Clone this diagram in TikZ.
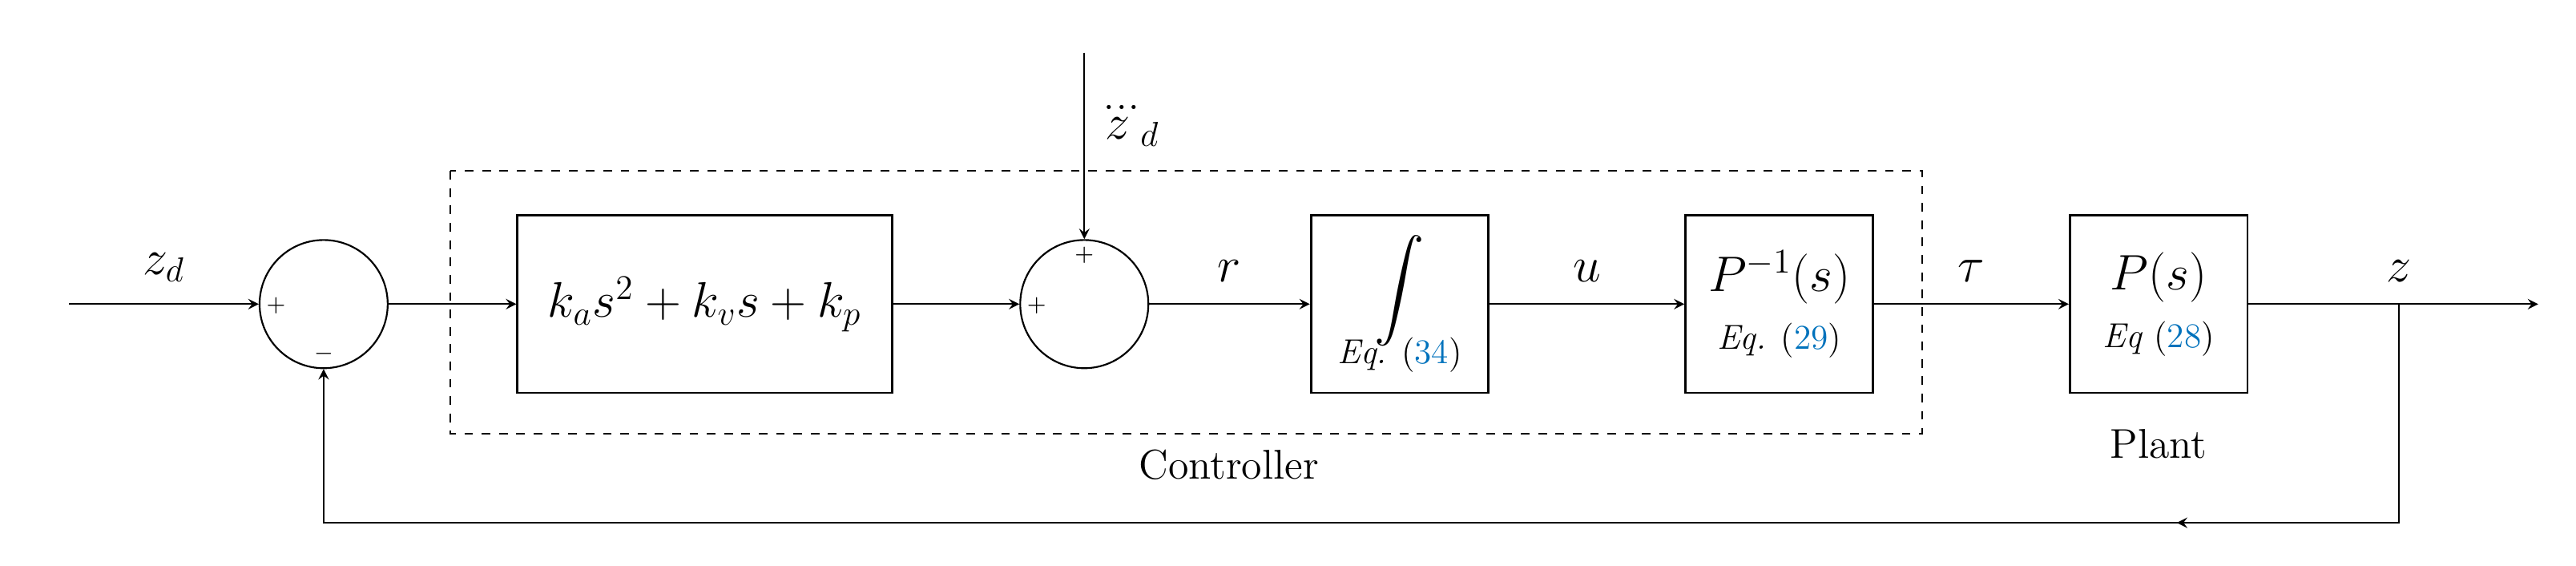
\documentclass[tikz,border=0pt]{standalone}
\usepackage{amsmath}
\usetikzlibrary{positioning}
\definecolor{refblue}{RGB}{0,114,188}
\newcommand{\eqlink}[1]{(\textcolor{refblue}{#1})}
\tikzset{
    block/.style={draw, thick, minimum height=2.16cm, font=\LARGE},
    sum/.style={draw, semithick, circle, minimum size=1.56cm, inner sep=0pt},
    sig/.style={font=\LARGE},
    sgn/.style={font=\footnotesize, inner sep=1pt},
}
\begin{document}
\begin{tikzpicture}[x=0.02cm, y=-0.02cm, >=stealth, semithick]
    \useasboundingbox (0, 0) rectangle (1568, 344);

    \node[sum] (s1) at (197, 185) {};
    \node[block, minimum width=4.56cm] (pid) at (429, 185) {\(k_a s^2 + k_v s + k_p\)};
    \node[sum] (s2) at (660, 185) {};
    \node[block, minimum width=2.16cm, align=center] (int) at (852, 185) {\(\displaystyle\int\)\\[-4pt] \large\textit{Eq.} \eqlink{34}};
    \node[block, minimum width=2.28cm, align=center] (pinv) at (1083, 185) {\(P^{-1}(s)\)\\[-2pt] \large\textit{Eq.} \eqlink{29}};
    \node[block, minimum width=2.16cm, align=center] (plant) at (1314, 185) {\(P(s)\)\\[-2pt] \large\textit{Eq} \eqlink{28}};

    \coordinate (in) at (42, 185);
    \coordinate (out) at (1545, 185);
    \coordinate (br) at (1460, 185);
    \coordinate (top) at (660, 32);

    \draw[->] (in) -- node[sig, above=4pt] {\(z_d\)} (s1);
    \draw[->] (s1) -- (pid);
    \draw[->] (pid) -- (s2);
    \draw[->] (s2) -- node[sig, above=4pt] {\(r\)} (int);
    \draw[->] (int) -- node[sig, above=4pt] {\(u\)} (pinv);
    \draw[->] (pinv) -- node[sig, above=4pt] {\(\tau\)} (plant);
    \draw[->] (plant) -- (out);
    \node[sig, above=4pt] at (br) {\(z\)};
    \draw[->] (top) -- node[sig, right, pos=0.4] {\(\dddot{z}_d\)} (s2);
    \draw[->] (br) -- (1460, 318) -- (197, 318) -- (s1);
    \draw[->] (1460, 318) -- (1325, 318);

    \node[sgn] at (168, 186) {\(+\)};
    \node[sgn] at (197, 215) {\(-\)};
    \node[sgn] at (631, 186) {\(+\)};
    \node[sgn] at (660, 155) {\(+\)};

    \draw[dashed] (274, 104) rectangle (1170, 264);
    \node[font=\Large] at (748, 283) {Controller};
    \node[font=\Large] at (1314, 270) {Plant};
\end{tikzpicture}
\end{document}
